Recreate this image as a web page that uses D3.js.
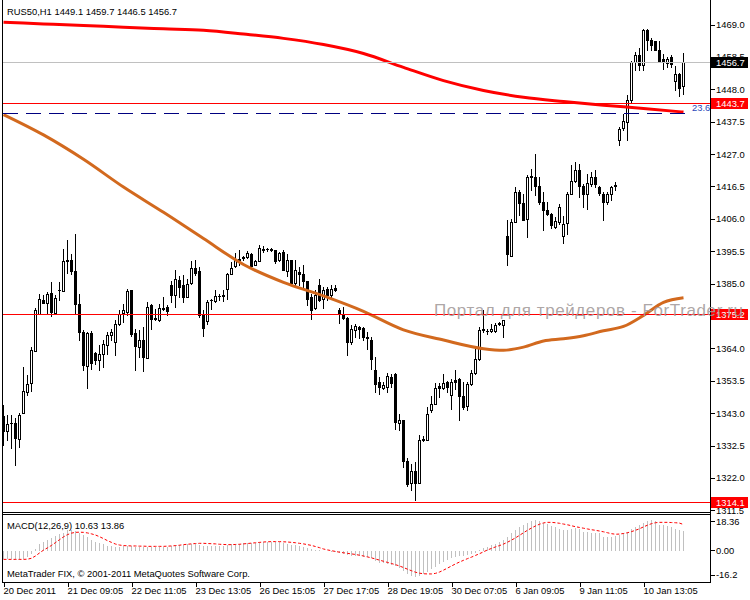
<!DOCTYPE html>
<html><head><meta charset="utf-8">
<script src="https://cdn.jsdelivr.net/npm/d3@7"></script>
<style>
body{margin:0;background:#fff;}
svg{display:block;font-family:"Liberation Sans",Arial,sans-serif;}
</style></head><body>
<svg id="c" width="750" height="600"></svg>
<script>
// ---------- data ----------
const titleText = "RUS50,H1  1449.1 1459.7 1446.5 1456.7";
const macdTitle = "MACD(12,26,9) 10.63 13.86";
const copyrightText = "MetaTrader FIX, \u00a9 2001-2011 MetaQuotes Software Corp.";
const watermarkText = "Портал для трейдеров - ForTrader.ru";

const opens = [1342.0,1337.2,1339.7,1339.7,1334.5,1342.9,1349.8,1352.7,1363.1,1375.3,1379.6,1378.7,1382.1,1375.4,1382.8,1382.5,1392.7,1392.7,1389.1,1378.5,
1369.3,1358.3,1369.0,1362.5,1360.1,1362.3,1365.0,1368.2,1366.0,1372.0,1375.4,1375.8,1382.8,1369.0,1364.4,1366.6,1361.0,1377.9,1374.0,1373.1,
1376.9,1377.4,1384.7,1381.2,1386.3,1384.4,1380.6,1385.2,1390.0,1389.0,1374.7,1372.9,1379.6,1379.3,1381.0,1381.4,1383.3,1388.2,1390.6,1393.1,
1393.4,1393.6,1394.7,1391.1,1392.3,1396.0,1396.1,1396.3,1395.8,1392.5,1395.4,1389.0,1392.5,1385.2,1388.7,1388.2,1385.8,1380.6,1377.2,1384.6,
1379.9,1383.1,1381.4,1383.7,1376.6,1374.7,1373.8,1366.0,1370.1,1370.9,1370.6,1367.7,1366.8,1357.1,1353.1,1351.3,1351.5,1354.7,1355.6,1339.8,
1340.7,1327.5,1320.2,1324.2,1320.2,1334.4,1334.4,1344.1,1346.1,1351.7,1351.3,1353.0,1348.8,1353.6,1354.2,1348.4,1345.2,1352.3,1356.0,1360.7,
1370.1,1369.6,1369.6,1369.6,1371.8,1371.5,1400.3,1394.1,1404.9,1414.7,1411.1,1406.0,1419.7,1419.5,1416.8,1411.4,1409.0,1407.7,1403.5,1404.9,
1400.3,1404.6,1414.1,1418.4,1421.7,1416.8,1414.1,1417.4,1419.7,1416.3,1414.1,1411.4,1414.1,1416.8,1431.4,1435.5,1437.3,1444.6,1456.8,1459.0,
1456.0,1467.1,1464.0,1463.5,1460.6,1457.9,1456.5,1458.6,1450.6,1452.8,1449.1];
const highs = [1345.5,1342.3,1342.3,1341.3,1342.9,1357.8,1355.3,1364.4,1377.0,1381.5,1381.2,1382.3,1385.5,1381.2,1385.5,1396.3,1399.2,1394.7,1401.0,1381.7,
1369.8,1369.3,1369.5,1362.8,1365.0,1366.6,1369.3,1370.4,1373.1,1376.3,1378.5,1383.3,1383.0,1370.4,1369.8,1370.9,1379.0,1378.5,1376.9,1378.5,
1380.6,1377.9,1386.0,1389.5,1387.3,1387.7,1386.6,1392.3,1392.5,1390.4,1376.3,1379.8,1380.1,1383.0,1381.7,1382.8,1388.4,1392.0,1394.9,1395.8,
1393.8,1395.5,1394.9,1392.5,1397.4,1397.1,1396.5,1396.5,1396.0,1395.2,1395.8,1394.7,1392.7,1392.5,1390.4,1390.9,1386.0,1381.7,1382.8,1386.6,
1383.9,1383.9,1384.4,1384.7,1377.2,1377.4,1374.2,1371.5,1372.0,1371.1,1370.9,1369.3,1367.7,1361.2,1354.7,1353.1,1356.0,1355.6,1356.0,1342.8,
1340.9,1328.3,1326.6,1327.2,1335.8,1335.6,1345.0,1348.4,1352.8,1352.8,1355.6,1353.4,1354.2,1356.9,1354.5,1353.1,1353.1,1357.1,1364.4,1370.9,
1376.3,1370.4,1372.0,1372.2,1372.5,1373.3,1405.5,1406.0,1416.3,1415.2,1414.1,1420.1,1422.2,1427.1,1419.5,1414.7,1411.4,1407.8,1406.6,1410.9,
1406.8,1414.7,1423.3,1424.4,1423.9,1417.4,1420.6,1421.1,1421.7,1416.8,1414.7,1414.7,1416.8,1417.9,1435.7,1440.1,1446.0,1457.3,1460.0,1461.4,
1467.6,1467.6,1464.7,1463.8,1463.8,1459.5,1458.4,1459.0,1455.7,1453.2,1459.7];
const lows = [1332.6,1334.2,1331.6,1326.1,1331.9,1342.9,1348.8,1350.2,1363.1,1375.3,1378.6,1375.4,1374.4,1375.2,1379.6,1382.5,1388.4,1388.2,1375.2,1366.6,
1356.9,1351.1,1357.4,1359.0,1356.9,1357.9,1362.3,1366.6,1361.7,1371.5,1372.5,1374.7,1367.9,1356.9,1361.2,1356.6,1361.0,1370.4,1373.1,1372.9,
1376.3,1374.7,1379.0,1377.4,1380.6,1379.0,1380.6,1385.0,1387.7,1374.2,1367.9,1371.8,1376.9,1379.0,1379.6,1379.3,1380.1,1388.0,1390.4,1390.9,
1392.7,1393.4,1390.6,1390.9,1392.2,1395.2,1395.5,1395.5,1391.6,1392.3,1389.3,1387.3,1384.4,1384.1,1384.4,1383.9,1377.9,1373.5,1376.9,1379.2,
1377.2,1379.8,1380.6,1382.6,1372.2,1373.6,1362.0,1365.5,1367.7,1367.2,1366.8,1363.9,1357.4,1349.8,1349.3,1350.9,1349.8,1351.5,1337.7,1337.4,
1325.5,1319.3,1318.0,1314.7,1320.2,1333.9,1334.2,1343.4,1345.9,1348.2,1350.9,1349.8,1344.5,1350.9,1340.7,1344.5,1343.9,1352.0,1355.8,1360.3,
1369.3,1368.8,1369.3,1369.3,1371.5,1367.7,1390.9,1393.8,1404.9,1407.4,1405.5,1400.1,1415.2,1413.6,1410.9,1402.5,1407.4,1403.1,1403.1,1404.4,
1398.1,1401.2,1413.9,1417.9,1413.0,1409.8,1409.3,1416.8,1416.3,1413.6,1405.7,1410.9,1412.2,1415.4,1429.8,1434.9,1431.4,1443.8,1454.1,1454.1,
1454.1,1460.6,1460.8,1460.6,1456.8,1454.6,1455.2,1455.2,1447.8,1445.7,1446.5];
const closes = [1337.2,1339.6,1339.9,1334.8,1342.3,1350.1,1352.6,1363.4,1376.3,1379.9,1378.7,1381.7,1375.8,1380.4,1382.9,1392.2,1392.2,1389.1,1378.5,1369.3,
1358.5,1369.0,1359.2,1360.1,1362.3,1365.3,1368.2,1369.2,1372.0,1375.2,1376.3,1382.6,1368.5,1364.9,1366.8,1361.2,1377.4,1373.4,1373.4,1377.2,
1377.0,1376.1,1381.2,1386.6,1383.9,1380.6,1385.0,1390.2,1388.4,1374.7,1370.7,1379.0,1379.7,1381.1,1381.1,1380.9,1388.2,1390.2,1393.1,1392.5,
1393.5,1394.9,1390.6,1392.2,1396.6,1396.1,1396.2,1395.8,1392.2,1394.9,1389.3,1392.7,1385.2,1389.3,1388.2,1385.8,1380.1,1376.6,1381.2,1379.6,
1382.8,1381.2,1383.3,1383.0,1375.2,1374.0,1366.0,1370.4,1371.1,1370.3,1367.7,1367.2,1360.7,1352.6,1351.5,1352.0,1354.9,1352.8,1340.1,1340.9,
1327.5,1319.9,1324.2,1320.2,1334.4,1334.7,1342.8,1345.9,1351.3,1351.3,1352.8,1351.5,1353.1,1353.1,1348.4,1345.0,1352.3,1356.0,1360.7,1369.8,
1370.4,1369.7,1370.4,1371.5,1372.2,1373.1,1394.7,1404.9,1414.7,1411.1,1405.7,1419.5,1419.8,1416.5,1411.4,1409.0,1407.7,1403.9,1405.2,1409.8,
1404.4,1414.1,1418.4,1421.9,1416.8,1414.1,1417.6,1419.5,1417.4,1414.3,1411.4,1414.1,1416.3,1417.0,1435.2,1437.7,1444.6,1456.8,1459.0,1456.0,
1467.3,1464.0,1462.4,1460.8,1457.1,1457.3,1457.9,1456.3,1452.8,1448.5,1456.7];

const macdHist = [-4.6,-4.6,-4.6,-4.7,-4.7,-4.3,-3.3,-1.7,0.7,3.3,4.6,5.7,6.7,7.9,8.8,9.6,10.7,10.9,10.5,9.6,
8.4,7.1,5.9,4.8,4.0,3.3,2.7,2.3,2.1,2.1,2.3,2.7,2.3,2.0,1.8,1.7,2.0,1.9,1.8,2.0,
2.2,2.2,2.5,2.9,3.2,3.2,3.3,3.8,3.8,3.2,2.5,2.5,2.5,2.7,2.7,2.7,3.0,3.3,3.7,3.8,
4.0,4.2,4.3,4.3,4.6,4.8,4.8,4.8,4.6,4.4,4.0,3.8,3.2,2.8,2.5,2.2,1.5,0.8,0.5,0.2,
-0.3,-0.4,-0.5,-0.6,-1.3,-1.7,-2.5,-2.7,-2.8,-3.0,-3.2,-3.3,-4.1,-5.3,-6.4,-6.7,-7.0,-7.6,-8.1,-9.4,
-10.8,-12.4,-13.4,-14.1,-13.4,-12.4,-11.1,-9.9,-8.4,-7.0,-6.0,-4.9,-4.1,-3.2,-2.8,-2.7,-2.3,-1.8,-1.1,0.2,
1.3,2.1,3.0,3.8,4.6,5.6,7.0,9.2,11.0,12.4,13.4,14.8,15.6,16.2,15.8,14.9,14.1,13.3,12.5,11.3,
11.0,11.0,11.3,11.8,11.3,10.0,10.0,9.5,9.2,9.2,7.4,7.1,7.1,7.7,8.3,9.4,9.9,11.6,12.5,13.8,
14.8,15.6,16.2,15.6,13.8,13.4,13.0,12.7,11.6,11.0,10.63];
const macdSignal = [-4.6,-4.6,-4.6,-4.6,-4.6,-4.6,-4.5,-4.0,-2.8,-1.2,0.3,1.5,2.8,4.3,5.8,7.3,8.5,9.3,9.7,9.8,
9.7,9.4,8.9,8.3,7.4,6.4,5.3,4.4,3.5,3.0,2.7,2.6,2.5,2.5,2.4,2.4,2.3,2.3,2.3,2.3,
2.3,2.4,2.5,2.7,2.9,3.2,3.4,3.6,3.8,3.9,3.9,3.8,3.7,3.6,3.4,3.3,3.2,3.2,3.3,3.4,
3.6,3.8,4.0,4.2,4.4,4.6,4.7,4.8,4.8,4.8,4.7,4.6,4.4,4.2,3.9,3.6,3.2,2.8,2.2,1.6,
0.9,0.4,0.0,-0.4,-0.8,-1.1,-1.4,-1.7,-2.0,-2.4,-2.8,-3.3,-3.8,-4.4,-5.0,-5.6,-6.2,-6.8,-7.4,-8.1,
-8.9,-9.8,-10.6,-11.4,-11.9,-12.2,-12.3,-12.3,-12.0,-11.3,-10.3,-9.2,-8.1,-7.0,-6.0,-5.1,-4.2,-3.4,-2.5,-1.6,
-0.6,0.4,1.2,2.0,2.7,3.5,4.5,5.6,6.8,8.1,9.5,10.8,12.0,13.1,14.0,14.7,15.0,15.0,14.8,14.5,
14.1,13.7,13.2,12.7,12.3,11.9,11.5,11.1,10.8,10.4,10.0,9.5,9.0,8.7,8.8,9.1,9.5,10.1,10.8,11.6,
12.6,13.5,14.3,14.8,15.0,15.0,15.0,14.9,14.8,14.6,13.86];

// moving averages read at sampled bars
const maRedBars = [0,10,20,30,40,50,60,70,80,90,100,110,120,130,140,150,160,170];
const maRedValues = [1469.7,1469.2,1468.7,1468.1,1467.6,1467.1,1465.9,1464.5,1462.5,1459.6,1455.1,1450.8,1447.6,1445.4,1444.0,1442.8,1441.8,1440.6];
const maOrangeBars = [0,10,20,30,40,50,60,70,80,90,100,110,120,125,130,135,140,145,150,155,160,165,170];
const maOrangeValues = [1439.8,1433.2,1425.3,1416.3,1408.1,1399.6,1391.2,1385.4,1381.0,1376.0,1370.0,1366.7,1363.9,1363.4,1364.4,1366.4,1367.1,1368.1,1369.7,1371.1,1374.7,1378.9,1380.4];

const priceTicks = [1469.0,1458.5,1448.0,1437.5,1427.0,1416.5,1406.0,1395.5,1385.0,1374.5,1364.0,1353.5,1343.0,1332.5,1322.0,1311.5];
const macdTicks = [18.36, 0, -16.2];
const timeTickBars = [0,16,32,48,64,80,96,112,128,144,160];
const timeTickLabels = ["20 Dec 2011","21 Dec 09:05","22 Dec 11:05","23 Dec 13:05","26 Dec 15:05","27 Dec 17:05","28 Dec 19:05","30 Dec 07:05","6 Jan 09:05","9 Jan 11:05","10 Jan 13:05"];

const redLevels = [1443.7, 1375.2, 1314.1];
const bidLevel = 1456.7;
const fiboLevel = 1440.2;
const fiboLabel = "23.6";

// ---------- drawing ----------
const svg = d3.select("#c");
const n = opens.length;
const x = d3.scaleLinear().domain([0, n - 1]).range([3.5, 683.5]);
const y = d3.scaleLinear().domain([1311.5, 1469]).range([510.3, 24.5]);
const ym = d3.scaleLinear().domain([-16.2, 18.36]).range([581.3, 516]);
const FS = 9.4;
const FF = "Liberation Sans, Arial, sans-serif";
const crisp = v => Math.round(v) + 0.5;

svg.append("rect").attr("width", 750).attr("height", 600).attr("fill", "#fff");

// candles
const bars = d3.range(n).map(i => ({i, o: opens[i], h: highs[i], l: lows[i], c: closes[i]}));
const gC = svg.append("g").attr("shape-rendering", "crispEdges");
bars.forEach(b => {
  const cx = x(b.i);
  gC.append("line").attr("x1", cx).attr("x2", cx)
    .attr("y1", Math.round(y(b.h))).attr("y2", Math.round(y(b.l)) + 1)
    .attr("stroke", "#000").attr("stroke-width", 1);
  const top = Math.round(y(Math.max(b.o, b.c)));
  const bot = Math.round(y(Math.min(b.o, b.c)));
  if (bot - top < 1) {
    gC.append("line").attr("x1", cx - 1.5).attr("x2", cx + 1.5)
      .attr("y1", top + 0.5).attr("y2", top + 0.5).attr("stroke", "#000");
  } else if (b.c >= b.o) {
    gC.append("rect").attr("x", cx - 1).attr("y", top + 0.5).attr("width", 2).attr("height", bot - top)
      .attr("fill", "#fff").attr("stroke", "#000").attr("stroke-width", 1);
  } else {
    gC.append("rect").attr("x", cx - 1.5).attr("y", top).attr("width", 3).attr("height", bot - top + 1)
      .attr("fill", "#000");
  }
});

// moving averages
const maLine = d3.line().x(d => x(d[0])).y(d => y(d[1])).curve(d3.curveMonotoneX);
svg.append("path").datum(maOrangeBars.map((b, k) => [b, maOrangeValues[k]]))
  .attr("d", maLine).attr("fill", "none").attr("stroke", "#d2691e").attr("stroke-width", 3);
svg.append("path").datum(maRedBars.map((b, k) => [b, maRedValues[k]]))
  .attr("d", maLine).attr("fill", "none").attr("stroke", "#ff0000").attr("stroke-width", 3);

// horizontal lines
const gL = svg.append("g");
gL.append("rect").attr("x", 2).attr("width", 708).attr("y", Math.round(y(bidLevel))).attr("height", 1)
  .attr("fill", "#c0c0c0");
redLevels.forEach(p => {
  gL.append("rect").attr("x", 2).attr("width", 708).attr("y", Math.round(y(p))).attr("height", 1)
    .attr("fill", "#ff0000");
});
gL.append("line").attr("x1", 3).attr("x2", 690).attr("y1", crisp(y(fiboLevel))).attr("y2", crisp(y(fiboLevel)))
  .attr("stroke", "#000080").attr("stroke-dasharray", "15,8").attr("shape-rendering", "crispEdges");
svg.append("text").attr("x", 692).attr("y", crisp(y(fiboLevel)) - 3).attr("font-size", FS)
  .attr("fill", "#2b48b8").text(fiboLabel);

// MACD
const gM = svg.append("g").attr("shape-rendering", "crispEdges");
macdHist.forEach((v, i) => {
  gM.append("line").attr("x1", x(i)).attr("x2", x(i))
    .attr("y1", Math.round(ym(0))).attr("y2", Math.round(ym(v)))
    .attr("stroke", "#c0c0c0");
});
const sigLine = d3.line().x((d, i) => x(i)).y(d => ym(d));
svg.append("path").datum(macdSignal).attr("d", sigLine).attr("fill", "none")
  .attr("stroke", "#ff0000").attr("stroke-width", 1).attr("stroke-dasharray", "3,2");

// frames
const gF = svg.append("g").attr("shape-rendering", "crispEdges").attr("stroke", "#000").attr("fill", "none");
gF.append("line").attr("x1", 2.5).attr("x2", 2.5).attr("y1", 0).attr("y2", 583);
gF.append("line").attr("x1", 710.5).attr("x2", 710.5).attr("y1", 0).attr("y2", 583);
gF.append("line").attr("x1", 2).attr("x2", 711).attr("y1", 512.5).attr("y2", 512.5);
gF.append("line").attr("x1", 2).attr("x2", 711).attr("y1", 514.5).attr("y2", 514.5);
gF.append("line").attr("x1", 2).attr("x2", 711).attr("y1", 582.5).attr("y2", 582.5);

// price axis
const axP = svg.append("g").attr("transform", "translate(710.5,0)")
  .call(d3.axisRight(y).tickValues(priceTicks).tickSize(4).tickFormat(d3.format(".1f")));
axP.select(".domain").remove();
axP.selectAll("text").attr("x", 5.5).attr("font-size", FS).attr("font-family", FF).attr("fill", "#000");
axP.selectAll("line").attr("shape-rendering", "crispEdges");

// macd axis (labels sit inside the sub-window as MetaTrader draws them)
const macdShift = {"18.36": 5.7, "0": 0, "-16.2": -6};
const axM = svg.append("g").attr("transform", "translate(710.5,0)")
  .call(d3.axisRight(ym).tickValues(macdTicks).tickSize(4)
    .tickFormat(d => d === 0 ? "0.00" : String(d)));
axM.select(".domain").remove();
axM.selectAll(".tick").attr("transform", d => `translate(0,${ym(d) + macdShift[String(d)]})`);
axM.selectAll("text").attr("x", 5.5).attr("font-size", FS).attr("font-family", FF).attr("fill", "#000");
axM.selectAll("line").attr("shape-rendering", "crispEdges");

// time axis
const axT = svg.append("g").attr("transform", "translate(0,582.5)")
  .call(d3.axisBottom(x).tickValues(timeTickBars).tickSize(4).tickFormat((d, k) => timeTickLabels[k]));
axT.select(".domain").remove();
axT.selectAll("text").attr("text-anchor", "start").attr("x", -0.5).attr("y", 5).attr("dy", "0.71em")
  .attr("font-size", FS).attr("font-family", FF).attr("fill", "#000");
axT.selectAll("line").attr("shape-rendering", "crispEdges");

// price label boxes
function priceBox(p, fill) {
  const yy = crisp(y(p));
  svg.append("rect").attr("x", 711).attr("y", yy - 6).attr("width", 37).attr("height", 11).attr("fill", fill)
    .attr("shape-rendering", "crispEdges");
  svg.append("text").attr("x", 716).attr("y", yy).attr("dy", "0.34em").attr("font-size", FS)
    .attr("fill", "#fff").text(d3.format(".1f")(p));
}
priceBox(bidLevel, "#000");
redLevels.forEach(p => priceBox(p, "#ff0000"));

// texts
svg.append("text").attr("x", 7).attr("y", 14.5).attr("font-size", FS).attr("fill", "#000").text(titleText);
svg.append("text").attr("x", 7).attr("y", 528.5).attr("font-size", FS).attr("fill", "#000").text(macdTitle);
svg.append("text").attr("x", 7).attr("y", 577).attr("font-size", FS).attr("fill", "#000").text(copyrightText);

// watermark
svg.append("text").attr("x", 434).attr("y", 316).attr("font-size", 17)
  .attr("textLength", 309).attr("lengthAdjust", "spacing")
  .attr("fill", "#a39b9b").attr("fill-opacity", 0.9).text(watermarkText);
</script>
</body></html>
